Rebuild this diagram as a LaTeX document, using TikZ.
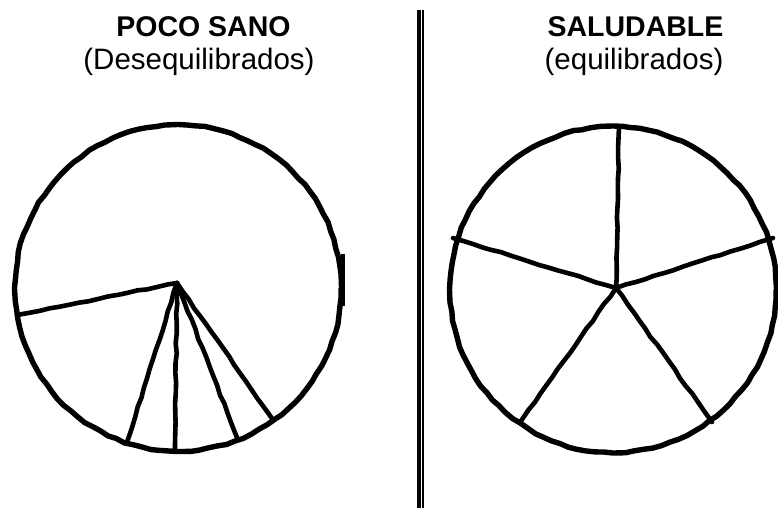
\documentclass[tikz,border=0pt]{standalone}
\usepackage{fontspec}
\setmainfont{Liberation Sans}
\usetikzlibrary{decorations.pathmorphing}
\begin{document}
\begin{tikzpicture}[x=1pt,y=-1pt,
  rim/.style={line width=5.4pt,line join=round,decorate,
    decoration={random steps,segment length=9pt,amplitude=0.7pt}},
  spoke/.style={line width=4.6pt,line cap=round,line join=round,decorate,
    decoration={random steps,segment length=10pt,amplitude=0.6pt}},
  title/.style={anchor=base,inner sep=0pt,font=\fontsize{28.5}{30}\selectfont\bfseries},
  subtitle/.style={anchor=base,inner sep=0pt,font=\fontsize{29.5}{32}\selectfont}]
\pgfmathsetseed{7}
\useasboundingbox[fill=white] (0,0) rectangle (778,508);
% titles
\node[title] (tl) at (203.5,37) {POCO SANO};
\node[subtitle] (sl) at (199,70) {(Desequilibrados)};
\node[title] (tr) at (635.5,37) {SALUDABLE};
\node[subtitle] (sr) at (634,70) {(equilibrados)};
% divider
\coordinate (d1a) at (418.9,10);
\coordinate (d1b) at (418.9,508);
\coordinate (d2a) at (423.2,10);
\coordinate (d2b) at (423.2,508);
\draw[line width=4.3pt] (d1a) -- (d1b);
\draw[line width=2.3pt] (d2a) -- (d2b);
% left chart
\coordinate (lc) at (178,288);
\draw[rim] (lc) circle[radius=163];
\draw[line width=4pt] (342.5,254) -- (342.5,306);
\coordinate (lh) at (177,283);
\coordinate (l1) at (17,315);
\coordinate (l2) at (127,442);
\coordinate (l3) at (175,450);
\coordinate (l4) at (238,440);
\coordinate (l5) at (273,420);
\draw[spoke] (lh) -- (l1);
\draw[spoke] (lh) -- (l2);
\draw[spoke] (lh) -- (l3);
\draw[spoke] (lh) -- (l4);
\draw[spoke] (lh) -- (l5);
% right chart
\coordinate (rc) at (613,289.5);
\draw[rim] (rc) circle[radius=163];
\coordinate (rh) at (616,288);
\coordinate (r1) at (619,127);
\coordinate (r2) at (453,238);
\coordinate (r3) at (773,238);
\coordinate (r4) at (521,421);
\coordinate (r5) at (712,422);
\draw[spoke] (rh) -- (r1);
\draw[spoke] (rh) -- (r2);
\draw[spoke] (rh) -- (r3);
\draw[spoke] (rh) -- (r4);
\draw[spoke] (rh) -- (r5);
\end{tikzpicture}
\end{document}
